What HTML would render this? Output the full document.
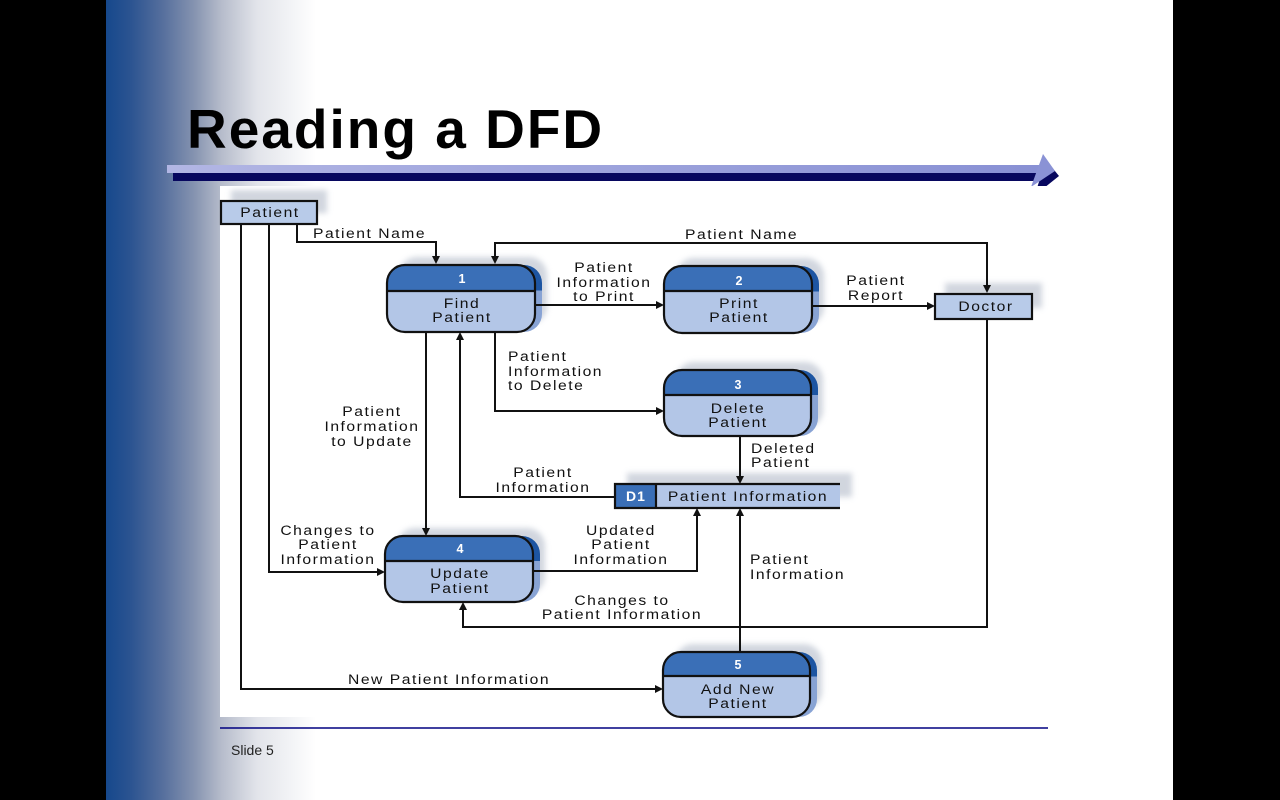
<!DOCTYPE html>
<html><head><meta charset="utf-8">
<style>
html,body{margin:0;padding:0;background:#000;width:1280px;height:800px;overflow:hidden}
svg{display:block}
.t{font-family:"Liberation Sans",Arial,sans-serif;font-size:14px;letter-spacing:1.35px;fill:#111}
.n{font-family:"Liberation Sans",Arial,sans-serif;font-size:12.5px;font-weight:bold;fill:#fff}
</style></head>
<body>
<svg width="1280" height="800" viewBox="0 0 1280 800" xmlns="http://www.w3.org/2000/svg">
<defs>
<linearGradient id="side" x1="0" y1="0" x2="1" y2="0">
<stop offset="0" stop-color="#16488c"/>
<stop offset="0.12" stop-color="#2c5491"/>
<stop offset="0.27" stop-color="#566f9d"/>
<stop offset="0.42" stop-color="#8593b0"/>
<stop offset="0.55" stop-color="#b6bccb"/>
<stop offset="0.72" stop-color="#e2e4ea"/>
<stop offset="1" stop-color="#ffffff"/>
</linearGradient>
<linearGradient id="lbar" x1="0" y1="0" x2="1" y2="0">
<stop offset="0" stop-color="#b2b6e4"/>
<stop offset="1" stop-color="#8890d4"/>
</linearGradient>
<linearGradient id="proc" x1="0" y1="0" x2="0" y2="1">
<stop offset="0" stop-color="#3a6fb7"/>
<stop offset="0.38" stop-color="#3a6fb7"/>
<stop offset="0.38" stop-color="#b3c6e7"/>
<stop offset="1" stop-color="#b3c6e7"/>
</linearGradient>
<linearGradient id="ext" x1="0" y1="0" x2="0" y2="1">
<stop offset="0" stop-color="#1d55a2"/>
<stop offset="0.38" stop-color="#1d55a2"/>
<stop offset="0.38" stop-color="#88a3d4"/>
<stop offset="1" stop-color="#88a3d4"/>
</linearGradient>
<filter id="blur" x="-30%" y="-30%" width="160%" height="160%"><feGaussianBlur stdDeviation="3"/></filter>
</defs>

<!-- slide -->
<rect x="106" y="0" width="1067" height="800" fill="#fff"/>
<rect x="106" y="0" width="210" height="800" fill="url(#side)"/>

<!-- title -->
<text x="187" y="148" font-family="'Liberation Sans',Arial,sans-serif" font-size="55" font-weight="bold" letter-spacing="2" fill="#000">Reading a DFD</text>

<!-- title bar -->
<rect x="173" y="173" width="868" height="8" fill="#07075e"/>
<polygon points="1046,160 1059,176 1044,188 1037,188" fill="#07075e"/>
<rect x="167" y="165" width="878" height="8" fill="url(#lbar)"/>
<polygon points="1043,154 1055,171 1031,187" fill="#8a92d5"/>

<!-- diagram image background -->
<rect x="220" y="186" width="830" height="531" fill="#fff"/>

<!-- shadows -->
<g filter="url(#blur)" fill="#c9cfd9" opacity="0.85">
<rect x="231" y="190" width="96" height="23"/>
<rect x="945" y="283" width="97" height="25"/>
<rect x="627" y="473" width="225" height="24"/>
<rect x="399" y="257" width="148" height="67" rx="18"/>
<rect x="676" y="258" width="148" height="67" rx="18"/>
<rect x="676" y="362" width="147" height="66" rx="18"/>
<rect x="397" y="528" width="148" height="66" rx="18"/>
<rect x="675" y="644" width="147" height="65" rx="18"/>
</g>

<!-- blue extrusions -->
<rect x="394" y="265" width="148" height="67" rx="18" fill="url(#ext)"/>
<rect x="671" y="266" width="148" height="67" rx="18" fill="url(#ext)"/>
<rect x="671" y="370" width="147" height="66" rx="18" fill="url(#ext)"/>
<rect x="392" y="536" width="148" height="66" rx="18" fill="url(#ext)"/>
<rect x="670" y="652" width="147" height="65" rx="18" fill="url(#ext)"/>

<!-- processes -->
<g stroke="#111" stroke-width="2.2">
<rect x="387" y="265" width="148" height="67" rx="18" fill="url(#proc)"/>
<line x1="387" y1="291" x2="535" y2="291"/>
<rect x="664" y="266" width="148" height="67" rx="18" fill="url(#proc)"/>
<line x1="664" y1="291" x2="812" y2="291"/>
<rect x="664" y="370" width="147" height="66" rx="18" fill="url(#proc)"/>
<line x1="664" y1="395" x2="811" y2="395"/>
<rect x="385" y="536" width="148" height="66" rx="18" fill="url(#proc)"/>
<line x1="385" y1="561" x2="533" y2="561"/>
<rect x="663" y="652" width="147" height="65" rx="18" fill="url(#proc)"/>
<line x1="663" y1="676" x2="810" y2="676"/>
<!-- external entities -->
<rect x="221" y="201" width="96" height="23" fill="#b8cbe9"/>
<rect x="935" y="294" width="97" height="25" fill="#b8cbe9"/>
</g>

<!-- data store D1 -->
<rect x="615" y="484" width="41" height="24" fill="#3a6fb7"/>
<rect x="656" y="484" width="184" height="24" fill="#b3c6e7"/>
<g stroke="#111" stroke-width="2.2" fill="none">
<polyline points="840,484 615,484 615,508 840,508"/>
<line x1="656" y1="484" x2="656" y2="508"/>
</g>

<!-- connectors -->
<g stroke="#111" stroke-width="2" fill="none">
<polyline points="241,224 241,689 656,689"/>
<polyline points="269,224 269,572 378,572"/>
<polyline points="297,224 297,242 436,242 436,257"/>
<polyline points="495,257 495,243 987,243 987,286"/>
<polyline points="535,305 657,305"/>
<polyline points="812,306 928,306"/>
<polyline points="426,332 426,529"/>
<polyline points="495,332 495,411 657,411"/>
<polyline points="615,497 460,497 460,339"/>
<polyline points="740,436 740,477"/>
<polyline points="533,571 697,571 697,515"/>
<polyline points="740,652 740,515"/>
<polyline points="987,319 987,627 463,627 463,609"/>
</g>

<!-- arrowheads -->
<g fill="#111">
<polygon points="432,256 440,256 436,264"/>
<polygon points="491,256 499,256 495,264"/>
<polygon points="983,285 991,285 987,293"/>
<polygon points="656,301 656,309 664,305"/>
<polygon points="927,302 927,310 935,306"/>
<polygon points="422,528 430,528 426,536"/>
<polygon points="656,407 656,415 664,411"/>
<polygon points="456,340 464,340 460,332"/>
<polygon points="736,476 744,476 740,484"/>
<polygon points="693,516 701,516 697,508"/>
<polygon points="736,516 744,516 740,508"/>
<polygon points="459,610 467,610 463,602"/>
<polygon points="377,568 377,576 385,572"/>
<polygon points="655,685 655,693 663,689"/>
</g>

<!-- numbers -->
<text class="n" x="462" y="283" text-anchor="middle">1</text>
<text class="n" x="739" y="285" text-anchor="middle">2</text>
<text class="n" x="738" y="389" text-anchor="middle">3</text>
<text class="n" x="460" y="553" text-anchor="middle">4</text>
<text class="n" x="738" y="669" text-anchor="middle">5</text>
<text class="n" x="636" y="501" text-anchor="middle" style="font-size:14px;letter-spacing:1px">D1</text>

<!-- horizontally stretched labels -->
<g transform="scale(1.12,1)">
<text class="t" x="241.07" y="217" text-anchor="middle">Patient</text>
<text class="t" x="880.36" y="311" text-anchor="middle">Doctor</text>

<text class="t" x="412.5" y="308" text-anchor="middle">Find</text>
<text class="t" x="412.5" y="322" text-anchor="middle">Patient</text>

<text class="t" x="659.82" y="308" text-anchor="middle">Print</text>
<text class="t" x="659.82" y="322" text-anchor="middle">Patient</text>

<text class="t" x="658.93" y="413" text-anchor="middle">Delete</text>
<text class="t" x="658.93" y="427" text-anchor="middle">Patient</text>

<text class="t" x="410.71" y="578" text-anchor="middle">Update</text>
<text class="t" x="410.71" y="593" text-anchor="middle">Patient</text>

<text class="t" x="658.93" y="694" text-anchor="middle">Add New</text>
<text class="t" x="658.93" y="708" text-anchor="middle">Patient</text>

<text class="t" x="667.86" y="501" text-anchor="middle">Patient Information</text>

<text class="t" x="279.46" y="238">Patient Name</text>
<text class="t" x="611.61" y="239">Patient Name</text>

<text class="t" x="539.29" y="272" text-anchor="middle">Patient</text>
<text class="t" x="539.29" y="287" text-anchor="middle">Information</text>
<text class="t" x="539.29" y="301" text-anchor="middle">to Print</text>

<text class="t" x="782.14" y="285" text-anchor="middle">Patient</text>
<text class="t" x="782.14" y="300" text-anchor="middle">Report</text>

<text class="t" x="453.57" y="361">Patient</text>
<text class="t" x="453.57" y="376">Information</text>
<text class="t" x="453.57" y="390">to Delete</text>

<text class="t" x="332.14" y="416" text-anchor="middle">Patient</text>
<text class="t" x="332.14" y="431" text-anchor="middle">Information</text>
<text class="t" x="332.14" y="446" text-anchor="middle">to Update</text>

<text class="t" x="670.54" y="453">Deleted</text>
<text class="t" x="670.54" y="467">Patient</text>

<text class="t" x="484.82" y="477" text-anchor="middle">Patient</text>
<text class="t" x="484.82" y="492" text-anchor="middle">Information</text>

<text class="t" x="292.86" y="535" text-anchor="middle">Changes to</text>
<text class="t" x="292.86" y="549" text-anchor="middle">Patient</text>
<text class="t" x="292.86" y="564" text-anchor="middle">Information</text>

<text class="t" x="554.46" y="535" text-anchor="middle">Updated</text>
<text class="t" x="554.46" y="549" text-anchor="middle">Patient</text>
<text class="t" x="554.46" y="564" text-anchor="middle">Information</text>

<text class="t" x="669.64" y="564">Patient</text>
<text class="t" x="669.64" y="579">Information</text>

<text class="t" x="555.36" y="605" text-anchor="middle">Changes to</text>
<text class="t" x="555.36" y="619" text-anchor="middle">Patient Information</text>

<text class="t" x="310.71" y="684">New Patient Information</text>
</g>

<!-- footer -->
<line x1="220" y1="728" x2="1048" y2="728" stroke="#000080" stroke-width="1.5"/>
<text x="231" y="755" font-family="'Liberation Sans',Arial,sans-serif" font-size="14" fill="#222">Slide 5</text>
</svg>
</body></html>
